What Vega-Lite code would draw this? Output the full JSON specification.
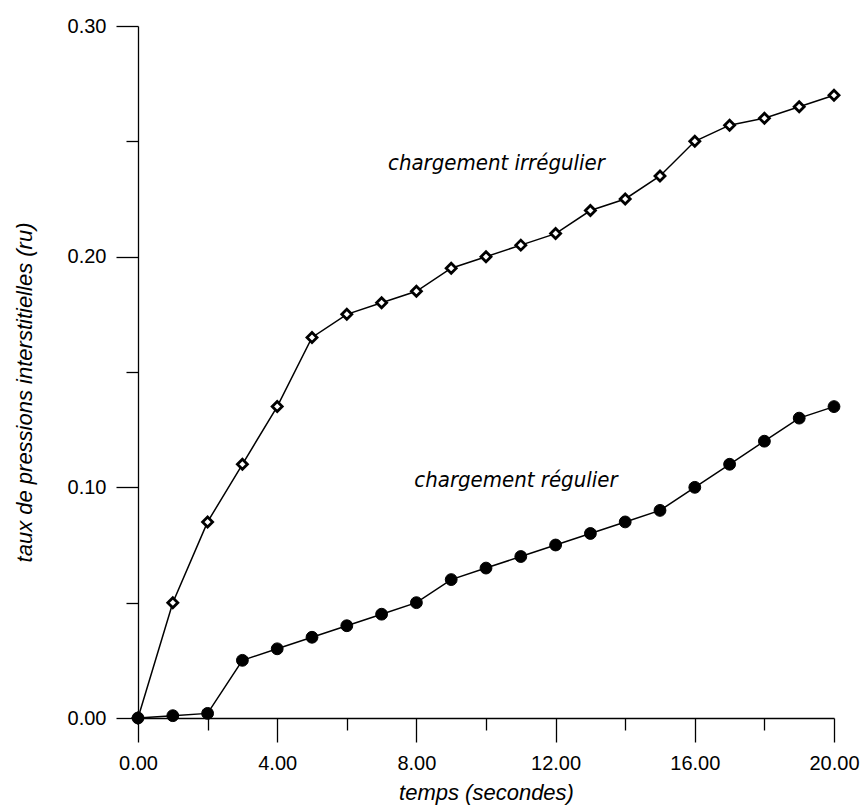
{
  "$schema": "https://vega.github.io/schema/vega-lite/v6.json",
  "autosize": {"type": "none"},
  "width": 696,
  "height": 692,
  "padding": {"left": 138, "top": 26, "right": 28, "bottom": 88},
  "background": "white",
  "config": {
    "view": {"stroke": null},
    "axis": {
      "grid": false,
      "domainColor": "black",
      "domainWidth": 1.3,
      "tickColor": "black",
      "tickWidth": 1.3,
      "labelColor": "black",
      "titleColor": "black",
      "labelFont": "Liberation Sans",
      "titleFont": "Liberation Sans",
      "labelFontSize": 20,
      "titleFontSize": 22,
      "titleFontWeight": "normal",
      "titleFontStyle": "italic"
    }
  },
  "datasets": {
    "series": [
      {"serie": "irrégulier", "t": 0, "ru": 0.0},
      {"serie": "irrégulier", "t": 1, "ru": 0.05},
      {"serie": "irrégulier", "t": 2, "ru": 0.085},
      {"serie": "irrégulier", "t": 3, "ru": 0.11},
      {"serie": "irrégulier", "t": 4, "ru": 0.135},
      {"serie": "irrégulier", "t": 5, "ru": 0.165},
      {"serie": "irrégulier", "t": 6, "ru": 0.175},
      {"serie": "irrégulier", "t": 7, "ru": 0.18},
      {"serie": "irrégulier", "t": 8, "ru": 0.185},
      {"serie": "irrégulier", "t": 9, "ru": 0.195},
      {"serie": "irrégulier", "t": 10, "ru": 0.2},
      {"serie": "irrégulier", "t": 11, "ru": 0.205},
      {"serie": "irrégulier", "t": 12, "ru": 0.21},
      {"serie": "irrégulier", "t": 13, "ru": 0.22},
      {"serie": "irrégulier", "t": 14, "ru": 0.225},
      {"serie": "irrégulier", "t": 15, "ru": 0.235},
      {"serie": "irrégulier", "t": 16, "ru": 0.25},
      {"serie": "irrégulier", "t": 17, "ru": 0.257},
      {"serie": "irrégulier", "t": 18, "ru": 0.26},
      {"serie": "irrégulier", "t": 19, "ru": 0.265},
      {"serie": "irrégulier", "t": 20, "ru": 0.27},
      {"serie": "régulier", "t": 0, "ru": 0.0},
      {"serie": "régulier", "t": 1, "ru": 0.001},
      {"serie": "régulier", "t": 2, "ru": 0.002},
      {"serie": "régulier", "t": 3, "ru": 0.025},
      {"serie": "régulier", "t": 4, "ru": 0.03},
      {"serie": "régulier", "t": 5, "ru": 0.035},
      {"serie": "régulier", "t": 6, "ru": 0.04},
      {"serie": "régulier", "t": 7, "ru": 0.045},
      {"serie": "régulier", "t": 8, "ru": 0.05},
      {"serie": "régulier", "t": 9, "ru": 0.06},
      {"serie": "régulier", "t": 10, "ru": 0.065},
      {"serie": "régulier", "t": 11, "ru": 0.07},
      {"serie": "régulier", "t": 12, "ru": 0.075},
      {"serie": "régulier", "t": 13, "ru": 0.08},
      {"serie": "régulier", "t": 14, "ru": 0.085},
      {"serie": "régulier", "t": 15, "ru": 0.09},
      {"serie": "régulier", "t": 16, "ru": 0.1},
      {"serie": "régulier", "t": 17, "ru": 0.11},
      {"serie": "régulier", "t": 18, "ru": 0.12},
      {"serie": "régulier", "t": 19, "ru": 0.13},
      {"serie": "régulier", "t": 20, "ru": 0.135}
    ],
    "labels": [
      {"t": 10.3, "ru": 0.2375, "label": "chargement irrégulier"},
      {"t": 10.86, "ru": 0.1, "label": "chargement régulier"}
    ]
  },
  "layer": [
    {
      "data": {"name": "series"},
      "mark": {"type": "line", "color": "black", "strokeWidth": 1.5},
      "encoding": {
        "x": {
          "field": "t",
          "type": "quantitative",
          "scale": {"domain": [0, 20], "nice": false, "zero": false},
          "axis": {
            "title": "temps (secondes)",
            "values": [0, 2, 4, 6, 8, 10, 12, 14, 16, 18, 20],
            "tickSize": {"condition": {"test": "datum.value % 4 === 0", "value": 24}, "value": 12},
            "labelExpr": "datum.value % 4 === 0 ? format(datum.value, '.2f') : ''",
            "labelPadding": 11,
            "labelFlush": false,
            "labelOverlap": false,
            "titleX": 348,
            "titleY": 74,
            "titleBaseline": "middle",
            "titleAlign": "center"
          }
        },
        "y": {
          "field": "ru",
          "type": "quantitative",
          "scale": {"domain": [0, 0.3], "nice": false},
          "axis": {
            "title": "taux de pressions interstitielles (ru)",
            "values": [0, 0.05, 0.1, 0.15, 0.2, 0.25, 0.3],
            "tickSize": {"condition": {"test": "round(datum.value * 100) % 10 === 0", "value": 22}, "value": 12},
            "labelExpr": "round(datum.value * 100) % 10 === 0 ? format(datum.value, '.2f') : ''",
            "labelPadding": 10,
            "labelFlush": false,
            "labelOverlap": false,
            "titleX": -114,
            "titleY": 366,
            "titleAngle": -90,
            "titleBaseline": "middle",
            "titleAlign": "center"
          }
        },
        "detail": {"field": "serie"}
      }
    },
    {
      "data": {"name": "series"},
      "transform": [{"filter": "datum.serie === 'irrégulier'"}],
      "mark": {"type": "point", "shape": "diamond", "filled": true, "fill": "white", "stroke": "black", "strokeWidth": 2.8, "size": 100, "opacity": 1},
      "encoding": {
        "x": {"field": "t", "type": "quantitative"},
        "y": {"field": "ru", "type": "quantitative"}
      }
    },
    {
      "data": {"name": "series"},
      "transform": [{"filter": "datum.serie === 'régulier'"}],
      "mark": {"type": "point", "shape": "circle", "filled": true, "fill": "black", "stroke": "black", "strokeWidth": 1, "size": 140, "opacity": 1},
      "encoding": {
        "x": {"field": "t", "type": "quantitative"},
        "y": {"field": "ru", "type": "quantitative"}
      }
    },
    {
      "data": {"name": "labels"},
      "mark": {"type": "text", "font": "DejaVu Sans Condensed, Liberation Sans", "fontStyle": "italic", "fontSize": 22, "align": "center", "baseline": "alphabetic", "color": "black"},
      "encoding": {
        "x": {"field": "t", "type": "quantitative"},
        "y": {"field": "ru", "type": "quantitative"},
        "text": {"field": "label"}
      }
    }
  ]
}
